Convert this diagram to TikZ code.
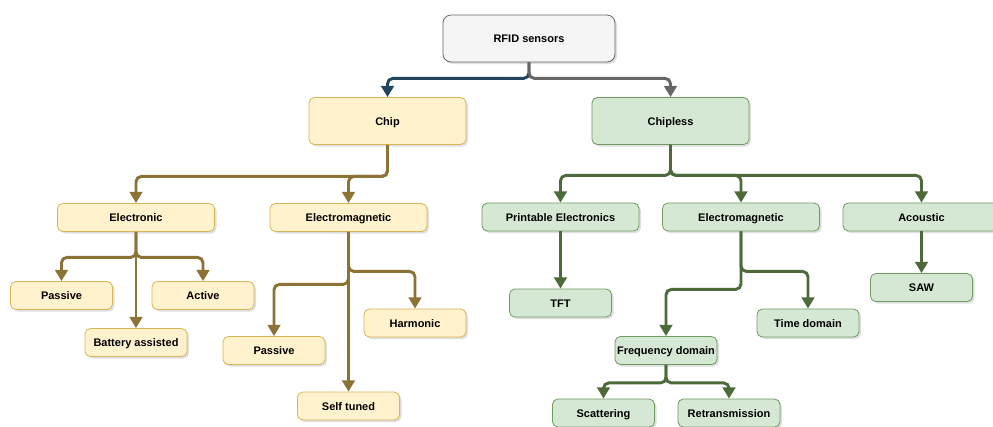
\documentclass[tikz,border=0pt]{standalone}
\usepackage{fontspec}
\setmainfont{Liberation Sans}
\usetikzlibrary{arrows.meta, shadows}
\definecolor{chipfill}{HTML}{FFF2CC}
\definecolor{chipdraw}{HTML}{D6B656}
\definecolor{chipline}{HTML}{8C7335}
\definecolor{lessfill}{HTML}{D5E8D4}
\definecolor{lessdraw}{HTML}{6F9A62}
\definecolor{lessline}{HTML}{4D6B3A}
\definecolor{rootfill}{HTML}{F5F5F5}
\definecolor{rootdraw}{HTML}{666666}
\definecolor{navy}{HTML}{23445D}
\tikzset{
    box/.style={rectangle, rounded corners=4pt, line width=0.6pt, inner sep=0pt,
      text height=6pt, text depth=0pt,
      font=\fontsize{8.25}{10}\selectfont\bfseries,
      drop shadow={shadow xshift=1.5pt, shadow yshift=-1.5pt, opacity=0.25}},
    wide/.style={box, minimum width=117.75pt, minimum height=21pt},
    leaf/.style={box, minimum width=76.5pt, minimum height=21pt},
    chipbox/.style={fill=chipfill, draw=chipdraw},
    lessbox/.style={fill=lessfill, draw=lessdraw},
    link/.style={line width=2.2pt, rounded corners=4pt, -{Triangle[length=8.5pt, width=9.5pt]}},
}

\begin{document}
\begin{tikzpicture}[x=0.75pt, y=-0.75pt]
    \useasboundingbox (0,0) rectangle (993,426);
    \clip (0,0) rectangle (993,426);

    \node[box, fill=rootfill, draw=rootdraw, minimum width=129pt, minimum height=35.25pt, rounded corners=6pt] (rfid) at (529,38.5) {RFID sensors};

    \node[box, chipbox, minimum width=117.75pt, minimum height=35.25pt] (chip) at (387.5,121) {Chip};
    \node[box, lessbox, minimum width=117.75pt, minimum height=35.25pt] (chipless) at (670.5,121) {Chipless};

    \node[wide, chipbox] (elec) at (136,217.5) {Electronic};
    \node[wide, chipbox] (emchip) at (348.5,217.5) {Electromagnetic};
    \node[leaf, chipbox] (pas1) at (61.5,295.5) {Passive};
    \node[leaf, chipbox] (act) at (203,295.5) {Active};
    \node[leaf, chipbox] (batt) at (136,342.5) {Battery assisted};
    \node[leaf, chipbox] (pas2) at (274,350.5) {Passive};
    \node[leaf, chipbox] (harm) at (415,323) {Harmonic};
    \node[leaf, chipbox] (self) at (348.5,406) {Self tuned};

    \node[wide, lessbox] (print) at (560.5,217) {Printable Electronics};
    \node[wide, lessbox] (emless) at (741,217) {Electromagnetic};
    \node[wide, lessbox] (acou) at (921.5,217) {Acoustic};
    \node[leaf, lessbox] (tft) at (560.5,303) {TFT};
    \node[leaf, lessbox] (saw) at (921.5,287.5) {SAW};
    \node[leaf, lessbox] (time) at (808,323) {Time domain};
    \node[leaf, lessbox] (freq) at (666,350.5) {Frequency domain};
    \node[leaf, lessbox] (scat) at (603.5,413) {Scattering};
    \node[leaf, lessbox] (retr) at (729,413) {Retransmission};

    \draw[link, navy] (rfid.south) -- ++(0,16) -| (chip.north);
    \draw[link, rootdraw] (rfid.south) -- ++(0,16) -| (chipless.north);

    \draw[link, chipline] (chip.south) -- ++(0,31.5) -| (elec.north);
    \draw[link, chipline] (chip.south) -- ++(0,31.5) -| (emchip.north);
    \draw[link, chipline] (elec.south) -- ++(0,25.5) -| (pas1.north);
    \draw[link, chipline] (elec.south) -- ++(0,25.5) -| (act.north);
    \draw[link, chipline] (elec.south) -- (batt.north);
    \draw[link, chipline] (emchip.south) -- ++(0,39.5) -| (harm.north);
    \draw[link, chipline] (emchip.south) -- ++(0,52.5) -| (pas2.north);
    \draw[link, chipline] (emchip.south) -- (self.north);

    \draw[link, lessline] (chipless.south) -- ++(0,30.5) -| (print.north);
    \draw[link, lessline] (chipless.south) -- ++(0,30.5) -| (emless.north);
    \draw[link, lessline] (chipless.south) -- ++(0,30.5) -| (acou.north);
    \draw[link, lessline] (print.south) -- (tft.north);
    \draw[link, lessline] (acou.south) -- (saw.north);
    \draw[link, lessline] (emless.south) -- ++(0,40) -| (time.north);
    \draw[link, lessline] (emless.south) -- ++(0,58) -| (freq.north);
    \draw[link, lessline] (freq.south) -- ++(0,18) -| (scat.north);
    \draw[link, lessline] (freq.south) -- ++(0,18) -| (retr.north);
\end{tikzpicture}
\end{document}
